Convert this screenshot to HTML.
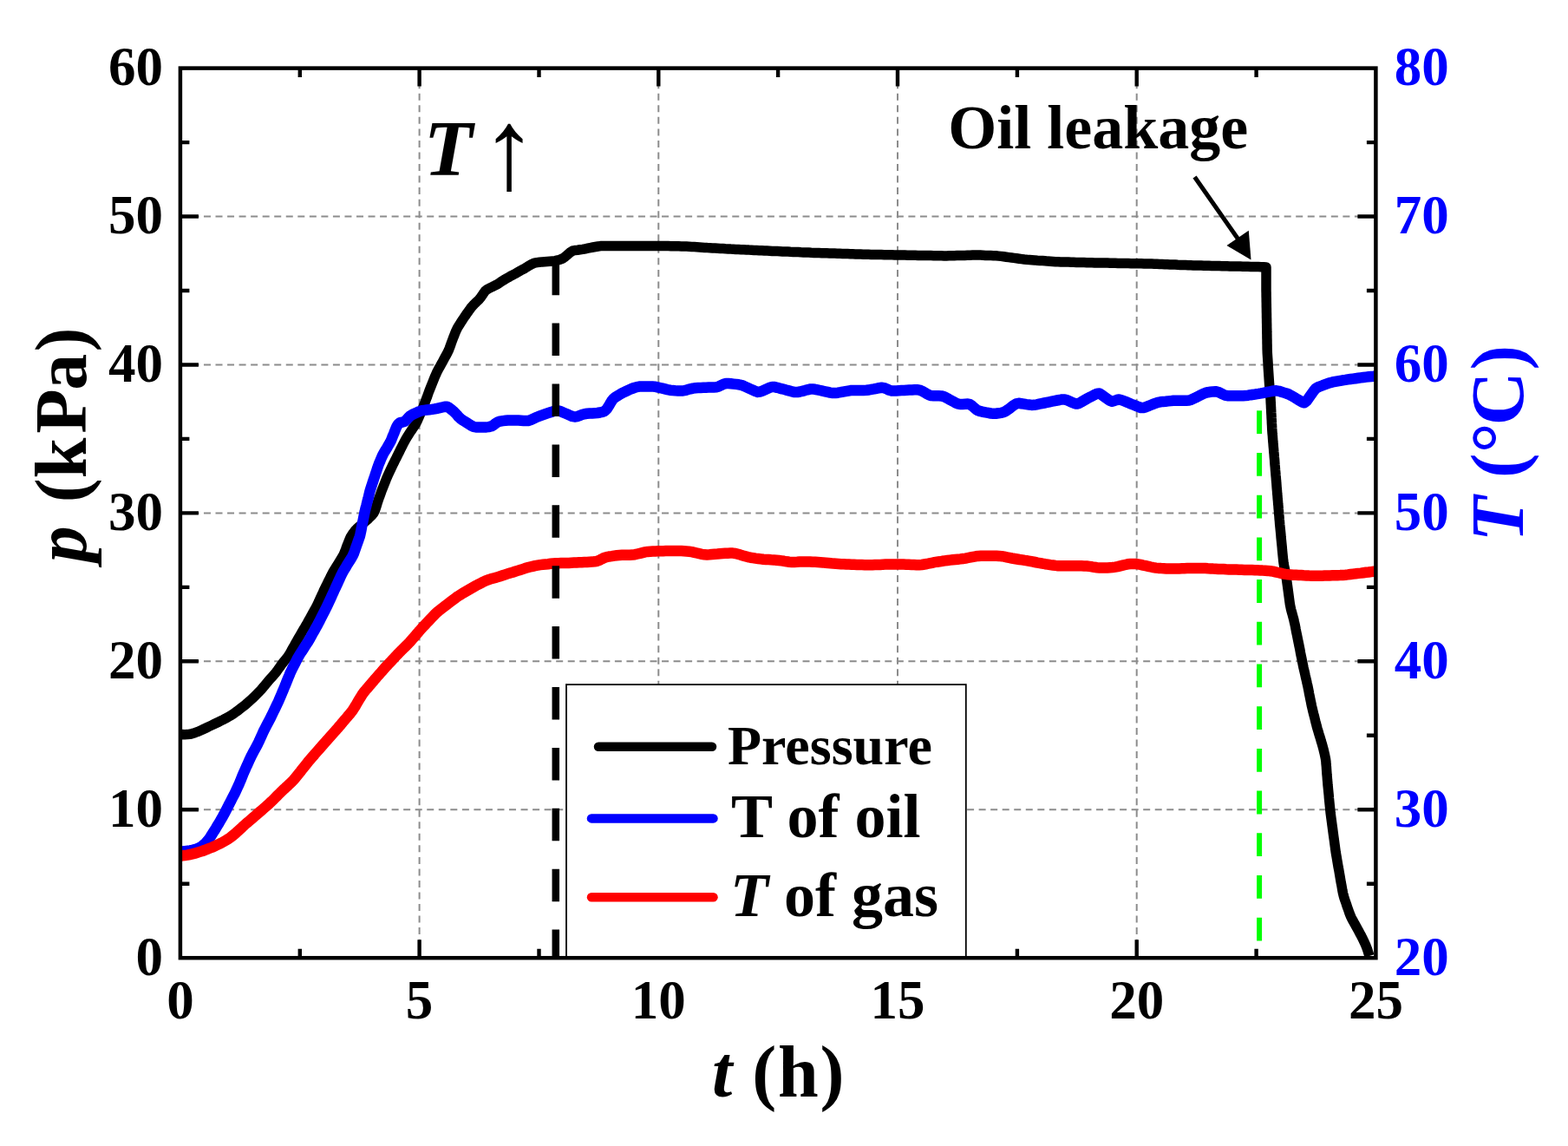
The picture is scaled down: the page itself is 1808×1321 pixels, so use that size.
<!DOCTYPE html>
<html><head><meta charset="utf-8"><title>Pressure and temperature vs time</title>
<style>html,body{margin:0;padding:0;background:#fff;overflow:hidden}svg{display:block}</style></head>
<body>
<svg width="1808" height="1321" viewBox="0 0 1808 1321">
<defs><clipPath id="plot"><rect x="207.9" y="78.6" width="1378.5" height="1025.6"/></clipPath></defs>
<rect width="1808" height="1321" fill="#fff"/>
<line x1="483.6" y1="1104.2" x2="483.6" y2="78.6" stroke="#8c8c8c" stroke-width="2" stroke-dasharray="8 5.54"/>
<line x1="759.3" y1="1104.2" x2="759.3" y2="78.6" stroke="#8c8c8c" stroke-width="2" stroke-dasharray="8 5.54"/>
<line x1="1035.0" y1="1104.2" x2="1035.0" y2="78.6" stroke="#8c8c8c" stroke-width="2" stroke-dasharray="8 5.54"/>
<line x1="1310.7" y1="1104.2" x2="1310.7" y2="78.6" stroke="#8c8c8c" stroke-width="2" stroke-dasharray="8 5.54"/>
<line x1="207.9" y1="933.3" x2="1586.4" y2="933.3" stroke="#8c8c8c" stroke-width="2" stroke-dasharray="8 5.54"/>
<line x1="207.9" y1="762.3" x2="1586.4" y2="762.3" stroke="#8c8c8c" stroke-width="2" stroke-dasharray="8 5.54"/>
<line x1="207.9" y1="591.4" x2="1586.4" y2="591.4" stroke="#8c8c8c" stroke-width="2" stroke-dasharray="8 5.54"/>
<line x1="207.9" y1="420.5" x2="1586.4" y2="420.5" stroke="#8c8c8c" stroke-width="2" stroke-dasharray="8 5.54"/>
<line x1="207.9" y1="249.5" x2="1586.4" y2="249.5" stroke="#8c8c8c" stroke-width="2" stroke-dasharray="8 5.54"/>
<g clip-path="url(#plot)" fill="none" stroke-linejoin="round" stroke-linecap="butt">
<polyline points="204.0,846.7 207.0,846.7 210.0,846.6 213.0,846.7 216.0,846.6 218.9,846.3 221.8,845.6 224.7,844.7 227.5,843.7 230.3,842.5 233.0,841.3 235.7,840.0 238.4,838.7 241.1,837.4 243.9,836.1 246.6,834.8 249.3,833.5 252.0,832.2 254.6,830.9 257.3,829.6 260.0,828.2 262.6,826.7 265.2,825.3 267.8,823.7 270.3,822.0 272.7,820.2 275.1,818.5 277.5,816.6 279.8,814.8 282.2,812.9 284.5,811.0 286.7,809.0 289.0,807.0 291.2,805.0 293.4,802.9 295.5,800.8 297.6,798.6 299.7,796.5 301.7,794.3 303.6,792.0 305.6,789.7 307.5,787.4 309.4,785.1 311.4,782.8 313.4,780.6 315.4,778.4 317.4,776.1 319.2,773.7 320.9,771.3 322.7,768.8 324.4,766.4 326.2,764.0 328.1,761.7 330.0,759.3 331.8,757.0 333.5,754.5 335.0,751.9 336.4,749.3 337.9,746.6 339.4,744.0 340.8,741.4 342.3,738.8 343.8,736.2 345.3,733.6 346.8,731.0 348.3,728.4 349.8,725.8 351.4,723.2 352.9,720.6 354.4,718.0 355.8,715.4 357.3,712.8 358.8,710.2 360.2,707.6 361.7,704.9 363.1,702.3 364.6,699.7 365.9,697.0 367.2,694.3 368.4,691.5 369.7,688.8 370.9,686.1 372.2,683.4 373.4,680.6 374.7,677.9 376.1,675.2 377.4,672.5 378.7,669.8 380.0,667.2 381.4,664.5 382.7,661.8 384.1,659.1 385.7,656.6 387.2,654.0 388.8,651.5 390.4,648.9 392.0,646.4 393.6,643.8 395.1,641.3 396.5,638.6 397.6,635.8 398.7,633.0 399.7,630.2 400.8,627.4 401.9,624.6 403.0,621.8 404.2,619.1 405.8,616.6 407.5,614.1 409.3,611.7 411.3,609.5 413.5,607.5 415.8,605.5 418.1,603.6 420.4,601.7 422.7,599.8 425.0,597.8 427.1,595.7 429.2,593.6 431.0,591.2 432.3,588.6 433.3,585.8 434.2,583.0 435.0,580.1 436.0,577.2 436.9,574.4 438.0,571.6 439.0,568.8 440.0,565.9 441.1,563.1 442.2,560.3 443.3,557.6 444.4,554.8 445.5,552.0 446.7,549.2 447.9,546.5 449.2,543.8 450.5,541.0 451.8,538.3 453.1,535.6 454.4,532.9 455.7,530.3 457.1,527.6 458.4,524.9 459.8,522.2 461.1,519.5 462.4,516.8 463.8,514.1 465.1,511.5 466.5,508.8 468.0,506.2 469.5,503.6 471.1,501.1 472.7,498.5 474.4,496.1 476.1,493.6 477.8,491.1 479.4,488.6 480.8,485.9 482.0,483.2 483.2,480.4 484.4,477.7 485.6,474.9 486.8,472.2 487.9,469.4 489.0,466.6 490.1,463.8 491.1,461.0 492.2,458.2 493.2,455.4 494.2,452.5 495.3,449.7 496.4,446.9 497.5,444.1 498.6,441.4 499.7,438.6 500.8,435.8 502.0,433.0 503.2,430.3 504.5,427.6 505.9,424.9 507.4,422.3 508.8,419.7 510.3,417.1 511.7,414.4 513.1,411.8 514.6,409.1 516.0,406.5 517.3,403.8 518.4,401.0 519.4,398.2 520.4,395.4 521.4,392.6 522.5,389.7 523.6,387.0 524.7,384.2 525.8,381.4 527.1,378.7 528.6,376.1 530.2,373.6 531.8,371.0 533.5,368.5 535.1,366.0 536.8,363.6 538.5,361.1 540.3,358.6 542.0,356.2 543.8,353.8 545.8,351.6 547.9,349.5 550.1,347.4 552.3,345.3 554.2,343.1 555.9,340.6 557.5,338.1 559.2,335.7 561.4,333.8 563.9,332.4 566.6,331.1 569.4,329.8 572.0,328.4 574.6,326.9 577.1,325.2 579.6,323.6 582.2,322.0 584.8,320.5 587.4,319.1 590.0,317.6 592.6,316.2 595.3,314.8 597.9,313.3 600.5,311.8 603.1,310.4 605.7,308.9 608.3,307.3 610.9,305.8 613.5,304.3 616.2,303.2 619.1,302.6 622.1,302.2 625.1,301.9 628.0,301.7 631.0,301.5 634.0,301.3 637.0,301.1 640.0,300.6 642.9,300.0 645.8,299.2 648.5,298.1 650.9,296.5 653.2,294.6 655.5,292.6 657.7,290.7 660.2,289.2 663.0,288.5 666.0,288.2 668.9,287.8 671.9,287.4 674.9,286.8 677.8,286.2 680.7,285.6 683.7,285.0 686.6,284.5 689.6,284.0 692.5,283.6 695.5,283.4 698.5,283.4 701.5,283.4 704.5,283.4 707.5,283.4 710.5,283.4 713.5,283.4 716.5,283.4 719.5,283.4 722.5,283.4 725.5,283.4 728.5,283.4 731.5,283.4 734.5,283.4 737.5,283.4 740.5,283.4 743.5,283.4 746.5,283.4 749.5,283.4 752.5,283.4 755.5,283.4 758.5,283.4 761.6,283.5 764.6,283.5 767.6,283.6 770.6,283.6 773.6,283.7 776.6,283.7 779.6,283.8 782.6,283.8 785.6,283.9 788.6,284.0 791.6,284.1 794.5,284.2 797.5,284.4 800.5,284.6 803.5,284.8 806.5,285.0 809.5,285.2 812.5,285.4 815.5,285.6 818.5,285.7 821.5,285.9 824.5,286.1 827.5,286.3 830.5,286.5 833.5,286.6 836.5,286.8 839.5,286.9 842.5,287.1 845.5,287.2 848.5,287.4 851.5,287.5 854.5,287.7 857.5,287.8 860.5,287.9 863.5,288.1 866.5,288.2 869.5,288.4 872.4,288.5 875.4,288.7 878.4,288.8 881.4,289.0 884.4,289.1 887.4,289.2 890.4,289.4 893.4,289.5 896.4,289.6 899.4,289.7 902.4,289.9 905.4,290.0 908.4,290.1 911.4,290.3 914.4,290.4 917.4,290.5 920.4,290.6 923.4,290.8 926.4,290.9 929.4,291.0 932.4,291.1 935.4,291.3 938.4,291.4 941.4,291.5 944.4,291.6 947.4,291.7 950.4,291.7 953.4,291.8 956.4,291.9 959.4,292.0 962.4,292.1 965.4,292.2 968.4,292.3 971.4,292.4 974.4,292.5 977.4,292.6 980.4,292.7 983.4,292.8 986.4,292.9 989.4,293.0 992.4,293.1 995.4,293.2 998.4,293.3 1001.4,293.3 1004.4,293.4 1007.4,293.4 1010.4,293.5 1013.4,293.6 1016.4,293.6 1019.4,293.7 1022.4,293.7 1025.4,293.8 1028.4,293.8 1031.4,293.9 1034.4,294.0 1037.4,294.0 1040.4,294.1 1043.4,294.1 1046.4,294.2 1049.4,294.2 1052.4,294.3 1055.4,294.3 1058.4,294.4 1061.4,294.4 1064.4,294.5 1067.4,294.5 1070.4,294.6 1073.4,294.6 1076.4,294.7 1079.4,294.7 1082.4,294.8 1085.4,294.8 1088.4,294.9 1091.4,294.9 1094.4,294.8 1097.4,294.7 1100.4,294.7 1103.4,294.6 1106.4,294.5 1109.4,294.4 1112.4,294.4 1115.4,294.3 1118.4,294.2 1121.4,294.1 1124.4,294.1 1127.4,294.1 1130.4,294.1 1133.4,294.2 1136.4,294.4 1139.4,294.5 1142.4,294.6 1145.4,294.7 1148.4,294.8 1151.4,295.1 1154.4,295.4 1157.3,295.8 1160.3,296.2 1163.3,296.6 1166.3,297.0 1169.2,297.4 1172.2,297.8 1175.2,298.2 1178.1,298.6 1181.1,299.0 1184.1,299.3 1187.1,299.5 1190.1,299.7 1193.1,299.9 1196.1,300.2 1199.1,300.4 1202.1,300.6 1205.1,300.8 1208.0,301.1 1211.0,301.3 1214.0,301.5 1217.0,301.7 1220.0,301.8 1223.0,301.9 1226.0,302.0 1229.0,302.1 1232.0,302.1 1235.0,302.2 1238.0,302.3 1241.0,302.4 1244.0,302.4 1247.0,302.5 1250.0,302.6 1253.0,302.7 1256.0,302.7 1259.0,302.8 1262.0,302.9 1265.0,302.9 1268.0,303.0 1271.0,303.0 1274.0,303.1 1277.0,303.1 1280.0,303.2 1283.0,303.3 1286.0,303.3 1289.0,303.4 1292.0,303.4 1295.0,303.5 1298.0,303.6 1301.0,303.6 1304.0,303.7 1307.0,303.7 1310.0,303.8 1313.0,303.8 1316.0,303.8 1319.0,303.9 1322.0,303.9 1325.0,304.0 1328.0,304.1 1331.0,304.2 1334.0,304.3 1337.0,304.4 1340.0,304.5 1343.0,304.7 1346.0,304.8 1349.0,304.9 1352.0,305.0 1355.0,305.1 1358.0,305.3 1361.0,305.4 1364.0,305.5 1367.0,305.6 1370.0,305.7 1373.0,305.8 1376.0,305.9 1379.0,306.0 1382.0,306.0 1385.0,306.1 1388.0,306.2 1391.0,306.3 1394.0,306.3 1397.0,306.4 1400.0,306.5 1403.0,306.6 1406.0,306.6 1409.0,306.7 1412.0,306.8 1415.0,306.8 1418.0,306.9 1421.0,307.0 1424.0,307.0 1427.0,307.1 1430.0,307.1 1433.0,307.2 1436.0,307.3 1439.0,307.3 1442.0,307.4 1445.0,307.4 1448.0,307.5 1451.0,307.6 1454.0,307.7 1457.0,307.8 1460.0,308.0 1460.0,311.0 1460.0,314.0 1460.0,317.0 1460.0,320.0 1460.0,323.0 1460.0,326.0 1460.0,329.0 1460.0,332.0 1460.0,335.0 1460.1,338.0 1460.1,341.0 1460.2,344.0 1460.2,347.0 1460.3,350.0 1460.3,353.0 1460.4,356.0 1460.4,359.0 1460.5,362.0 1460.5,365.0 1460.6,368.0 1460.6,371.0 1460.7,374.0 1460.7,377.0 1460.8,380.0 1460.8,383.0 1460.9,386.0 1460.9,389.0 1461.0,392.0 1461.0,395.0 1461.1,398.0 1461.1,401.0 1461.2,404.0 1461.3,407.0 1461.5,410.0 1461.7,413.0 1461.9,416.0 1462.1,419.0 1462.2,422.0 1462.4,425.0 1462.6,428.0 1462.8,431.0 1463.0,433.9 1463.2,436.9 1463.4,439.9 1463.6,442.9 1463.9,445.9 1464.1,448.9 1464.4,451.9 1464.6,454.9 1464.9,457.9 1465.1,460.9 1465.2,463.9 1465.4,466.9 1465.5,469.9 1465.7,472.9 1465.8,475.8 1466.0,478.8 1466.1,481.8 1466.3,484.8 1466.4,487.8 1466.6,490.8 1466.7,493.8 1466.9,496.8 1467.1,499.8 1467.4,502.8 1467.6,505.8 1467.8,508.8 1468.1,511.8 1468.3,514.8 1468.6,517.8 1468.8,520.7 1469.1,523.7 1469.3,526.7 1469.6,529.7 1469.8,532.7 1470.0,535.7 1470.3,538.7 1470.5,541.7 1470.8,544.7 1471.0,547.7 1471.3,550.7 1471.5,553.6 1471.8,556.6 1472.0,559.6 1472.2,562.6 1472.5,565.6 1472.7,568.6 1473.0,571.6 1473.2,574.6 1473.5,577.6 1473.7,580.6 1474.0,583.5 1474.2,586.5 1474.5,589.5 1474.7,592.5 1475.0,595.5 1475.2,598.5 1475.5,601.5 1475.7,604.5 1476.0,607.5 1476.3,610.4 1476.6,613.4 1476.9,616.4 1477.1,619.4 1477.4,622.4 1477.7,625.4 1478.0,628.4 1478.3,631.4 1478.5,634.3 1478.8,637.3 1479.1,640.3 1479.4,643.3 1479.7,646.3 1480.1,649.3 1480.6,652.2 1481.2,655.1 1481.9,658.1 1482.5,661.0 1483.0,664.0 1483.4,666.9 1483.8,669.9 1484.2,672.9 1484.6,675.8 1485.0,678.8 1485.4,681.8 1485.8,684.8 1486.2,687.7 1486.6,690.7 1487.0,693.7 1487.4,696.7 1488.0,699.6 1488.6,702.5 1489.4,705.4 1490.2,708.3 1491.0,711.2 1491.8,714.1 1492.4,717.0 1493.1,720.0 1493.7,722.9 1494.2,725.8 1494.8,728.8 1495.4,731.7 1496.0,734.7 1496.6,737.6 1497.2,740.5 1497.8,743.5 1498.4,746.4 1499.0,749.4 1499.5,752.3 1500.1,755.3 1500.7,758.2 1501.3,761.1 1501.9,764.1 1502.5,767.0 1503.1,770.0 1503.8,772.9 1504.5,775.8 1505.1,778.7 1505.8,781.7 1506.5,784.6 1507.1,787.5 1507.8,790.4 1508.4,793.4 1509.0,796.3 1509.5,799.3 1510.1,802.2 1510.7,805.2 1511.3,808.1 1511.9,811.0 1512.5,814.0 1513.2,816.9 1513.9,819.8 1514.6,822.7 1515.4,825.6 1516.1,828.5 1516.8,831.4 1517.6,834.4 1518.3,837.3 1519.1,840.1 1520.0,843.0 1520.8,845.9 1521.7,848.8 1522.6,851.6 1523.4,854.5 1524.3,857.4 1525.1,860.3 1525.9,863.2 1526.6,866.1 1527.3,869.0 1527.9,871.9 1528.5,874.9 1528.9,877.8 1529.1,880.8 1529.4,883.8 1529.6,886.8 1529.8,889.8 1530.0,892.8 1530.3,895.8 1530.5,898.8 1530.8,901.8 1531.0,904.8 1531.3,907.7 1531.6,910.7 1531.9,913.7 1532.2,916.7 1532.4,919.7 1532.7,922.7 1533.0,925.7 1533.3,928.7 1533.6,931.6 1533.9,934.6 1534.2,937.6 1534.6,940.6 1535.0,943.5 1535.4,946.5 1535.8,949.5 1536.2,952.5 1536.6,955.4 1537.0,958.4 1537.4,961.4 1537.8,964.4 1538.2,967.3 1538.6,970.3 1539.0,973.3 1539.4,976.3 1539.8,979.2 1540.2,982.2 1540.7,985.2 1541.2,988.1 1541.7,991.1 1542.2,994.0 1542.7,997.0 1543.2,999.9 1543.8,1002.9 1544.3,1005.9 1544.8,1008.8 1545.3,1011.8 1545.8,1014.7 1546.3,1017.7 1546.9,1020.6 1547.4,1023.6 1547.9,1026.5 1548.5,1029.5 1549.2,1032.4 1550.0,1035.3 1551.0,1038.1 1552.0,1040.9 1552.9,1043.8 1553.9,1046.6 1554.9,1049.4 1555.9,1052.3 1557.0,1055.1 1558.2,1057.8 1559.6,1060.5 1561.0,1063.1 1562.5,1065.7 1563.9,1068.3 1565.4,1071.0 1566.8,1073.6 1568.2,1076.2 1569.7,1078.9 1571.0,1081.6 1572.3,1084.3 1573.6,1087.0 1574.8,1089.7 1575.9,1092.5 1576.9,1095.3 1577.8,1098.2 1578.7,1101.0 1579.0,1102.0" stroke="#000" stroke-width="11.5"/>
<polyline points="204.0,981.8 207.0,981.6 210.0,981.4 213.0,981.1 216.0,980.8 218.9,980.4 221.9,979.9 224.8,979.2 227.6,978.3 230.3,977.0 232.8,975.4 235.2,973.5 237.3,971.5 239.3,969.3 241.1,966.9 242.8,964.4 244.4,961.9 246.0,959.3 247.6,956.8 249.2,954.2 250.7,951.6 252.3,949.1 253.8,946.5 255.3,943.9 256.8,941.3 258.2,938.7 259.7,936.0 261.0,933.4 262.4,930.7 263.7,928.0 265.1,925.3 266.5,922.6 267.8,920.0 269.2,917.3 270.6,914.7 271.9,912.0 273.2,909.2 274.4,906.5 275.7,903.8 276.8,901.0 278.0,898.2 279.1,895.4 280.2,892.7 281.4,889.9 282.6,887.2 283.8,884.4 285.1,881.7 286.3,879.0 287.5,876.2 288.8,873.5 290.1,870.8 291.5,868.1 292.9,865.5 294.4,862.9 295.8,860.3 297.2,857.6 298.5,854.9 299.7,852.2 301.0,849.4 302.2,846.7 303.4,844.0 304.7,841.3 306.1,838.6 307.5,835.9 308.9,833.3 310.3,830.6 311.7,828.0 313.0,825.3 314.3,822.6 315.6,819.9 316.9,817.2 318.2,814.5 319.5,811.8 320.8,809.1 322.0,806.3 323.2,803.5 324.4,800.8 325.5,798.0 326.7,795.2 327.8,792.5 329.0,789.7 330.1,786.9 331.2,784.1 332.3,781.4 333.5,778.6 334.6,775.8 335.9,773.1 337.2,770.4 338.6,767.7 339.9,765.1 341.3,762.4 342.6,759.7 344.1,757.1 345.6,754.5 347.2,752.0 348.9,749.5 350.5,746.9 352.1,744.4 353.7,741.9 355.4,739.4 356.9,736.8 358.4,734.2 359.8,731.5 361.3,728.9 362.8,726.3 364.2,723.7 365.7,721.1 367.1,718.4 368.5,715.8 369.8,713.1 371.2,710.4 372.6,707.7 373.9,705.1 375.3,702.4 376.6,699.7 377.9,697.0 379.2,694.3 380.4,691.6 381.7,688.8 382.9,686.1 384.2,683.4 385.4,680.6 386.7,677.9 387.9,675.2 389.2,672.5 390.4,669.7 391.7,667.0 392.9,664.3 394.2,661.6 395.6,658.9 397.1,656.3 398.7,653.8 400.2,651.2 401.8,648.7 403.4,646.1 405.0,643.6 406.5,641.0 407.8,638.3 408.8,635.5 409.8,632.7 410.8,629.8 411.8,627.0 412.8,624.2 413.8,621.3 414.8,618.5 415.5,615.6 416.1,612.7 416.7,609.7 417.2,606.8 417.8,603.8 418.4,600.9 419.0,597.9 419.6,595.0 420.2,592.1 420.8,589.1 421.5,586.2 422.3,583.3 423.0,580.4 423.7,577.5 424.5,574.6 425.2,571.7 425.9,568.7 426.6,565.8 427.5,563.0 428.4,560.1 429.3,557.3 430.3,554.4 431.2,551.6 432.2,548.7 433.1,545.9 434.1,543.0 435.0,540.2 436.0,537.3 437.0,534.5 438.2,531.7 439.3,529.0 440.5,526.2 441.8,523.5 443.3,520.9 444.9,518.4 446.4,515.8 447.9,513.2 449.4,510.6 450.8,508.0 451.9,505.2 453.0,502.4 454.2,499.6 455.3,496.8 456.4,494.0 457.6,491.3 459.2,488.8 461.3,487.1 464.0,486.6 466.6,485.8 468.7,483.9 470.7,481.6 472.8,479.6 475.3,478.0 478.0,476.7 480.7,475.5 483.4,474.3 486.2,473.3 489.2,472.9 492.2,472.5 495.2,472.2 498.1,471.9 501.1,471.4 504.0,470.8 507.0,470.2 509.9,469.5 512.8,468.8 515.5,468.8 517.9,470.1 520.3,472.0 522.6,473.8 524.8,475.9 526.8,478.1 528.7,480.4 530.9,482.4 533.3,484.2 535.8,485.8 538.4,487.4 540.9,489.0 543.5,490.6 546.1,491.9 548.9,492.5 551.9,492.6 554.9,492.6 557.9,492.6 560.9,492.4 563.9,492.1 566.7,491.3 569.2,489.8 571.5,488.0 574.0,486.4 576.8,485.6 579.8,485.1 582.8,484.8 585.7,484.5 588.7,484.4 591.7,484.4 594.7,484.4 597.7,484.5 600.7,484.7 603.7,484.9 606.7,485.1 609.6,484.9 612.4,483.9 615.1,482.6 617.8,481.3 620.6,480.2 623.4,479.2 626.2,478.2 629.0,477.2 631.9,476.2 634.7,475.3 637.6,474.3 640.4,473.5 643.2,473.2 646.0,474.0 648.8,475.2 651.5,476.4 654.3,477.6 657.0,478.7 659.8,479.9 662.6,480.5 665.4,480.1 668.2,479.1 671.0,478.0 673.9,477.2 676.8,476.8 679.8,476.6 682.8,476.4 685.8,476.2 688.8,476.0 691.7,475.5 694.6,474.8 697.3,473.8 699.4,471.8 701.0,469.3 702.6,466.8 704.1,464.2 705.7,461.6 707.5,459.4 709.9,457.6 712.4,456.1 715.0,454.5 717.6,453.1 720.3,451.7 723.0,450.5 725.8,449.2 728.5,448.0 731.3,447.0 734.2,446.1 737.1,445.6 740.1,445.4 743.1,445.4 746.1,445.4 749.1,445.4 752.1,445.4 755.0,445.7 758.0,446.3 760.9,447.0 763.8,447.7 766.7,448.4 769.6,449.1 772.5,449.7 775.5,450.1 778.5,450.3 781.5,450.4 784.5,450.6 787.5,450.5 790.4,449.9 793.3,449.1 796.1,448.3 799.1,447.6 802.0,447.2 805.0,447.0 808.0,446.9 811.0,446.8 814.0,446.7 817.0,446.6 820.0,446.5 823.0,446.4 826.0,446.2 828.8,445.4 831.5,444.1 834.2,442.8 836.9,442.1 839.9,442.1 842.9,442.3 845.8,442.6 848.8,442.9 851.8,443.3 854.7,443.8 857.5,444.9 860.2,446.1 863.0,447.4 865.7,448.6 868.4,449.8 871.2,451.1 873.9,451.9 876.6,451.6 879.4,450.4 882.1,449.2 884.9,448.0 887.6,446.8 890.4,446.0 893.2,446.1 896.1,446.8 899.0,447.6 901.9,448.3 904.8,449.1 907.7,449.9 910.6,450.6 913.5,451.4 916.4,452.1 919.3,452.1 922.3,451.5 925.2,450.8 928.1,450.1 931.0,449.3 933.9,448.6 936.8,448.4 939.7,448.8 942.7,449.4 945.6,450.0 948.5,450.7 951.5,451.3 954.4,451.9 957.3,452.6 960.3,453.1 963.2,453.1 966.2,452.7 969.1,452.2 972.1,451.6 975.0,451.1 978.0,450.6 980.9,450.1 983.9,449.9 986.9,449.9 989.9,449.9 992.9,449.9 995.9,449.9 998.9,449.8 1001.9,449.5 1004.8,448.9 1007.8,448.4 1010.7,447.8 1013.6,447.2 1016.6,446.8 1019.4,447.1 1022.1,448.2 1024.8,449.5 1027.6,450.4 1030.5,450.6 1033.5,450.5 1036.5,450.3 1039.5,450.1 1042.5,450.0 1045.5,449.8 1048.5,449.6 1051.5,449.5 1054.5,449.3 1057.4,449.2 1060.3,449.6 1063.0,450.7 1065.6,452.2 1068.2,453.7 1070.8,455.1 1073.6,456.1 1076.5,456.3 1079.5,456.3 1082.5,456.3 1085.5,456.4 1088.3,457.1 1091.0,458.4 1093.6,459.8 1096.2,461.3 1098.9,462.7 1101.5,464.2 1104.2,465.4 1107.0,466.0 1109.9,465.9 1112.9,465.7 1115.9,465.6 1118.6,466.2 1120.9,467.9 1123.2,469.9 1125.4,471.8 1127.9,473.3 1130.7,474.2 1133.6,474.8 1136.6,475.4 1139.5,475.9 1142.5,476.5 1145.4,476.8 1148.4,476.7 1151.3,476.3 1154.3,475.8 1157.2,475.2 1159.8,473.9 1162.2,472.2 1164.6,470.4 1167.0,468.6 1169.4,466.8 1171.9,465.3 1174.6,464.8 1177.6,465.2 1180.6,465.6 1183.5,466.1 1186.5,466.5 1189.4,466.9 1192.4,466.8 1195.3,466.3 1198.3,465.7 1201.2,465.1 1204.2,464.5 1207.1,463.9 1210.0,463.3 1213.0,462.7 1215.9,462.1 1218.9,461.5 1221.8,461.0 1224.7,460.4 1227.6,460.5 1230.4,461.3 1233.2,462.5 1235.9,463.7 1238.6,464.9 1241.4,465.6 1244.0,464.9 1246.6,463.5 1249.2,462.0 1251.8,460.5 1254.4,459.0 1257.1,457.6 1259.8,456.3 1262.5,454.9 1265.1,453.7 1267.7,453.6 1270.1,454.9 1272.5,456.7 1274.9,458.5 1277.4,460.3 1279.8,461.9 1282.3,462.7 1285.0,462.0 1287.7,461.0 1290.5,460.5 1293.3,461.2 1296.1,462.3 1298.9,463.4 1301.6,464.5 1304.4,465.7 1307.2,466.8 1310.0,467.9 1312.8,469.0 1315.6,470.0 1318.4,470.1 1321.1,469.2 1323.9,468.1 1326.7,467.0 1329.5,465.9 1332.3,464.8 1335.1,463.8 1338.0,463.3 1341.0,462.9 1344.0,462.7 1347.0,462.4 1350.0,462.1 1352.9,461.8 1355.9,461.7 1358.9,461.7 1361.9,461.7 1364.9,461.7 1367.9,461.7 1370.9,461.5 1373.7,460.7 1376.4,459.4 1379.1,458.1 1381.8,456.7 1384.4,455.4 1387.1,454.1 1389.9,452.9 1392.8,452.2 1395.7,451.8 1398.7,451.4 1401.6,451.2 1404.4,451.8 1407.1,453.0 1409.8,454.4 1412.5,455.6 1415.4,456.2 1418.4,456.3 1421.4,456.3 1424.4,456.3 1427.4,456.3 1430.4,456.3 1433.4,456.3 1436.3,456.1 1439.3,455.7 1442.3,455.2 1445.2,454.8 1448.2,454.3 1451.2,453.9 1454.1,453.4 1457.1,452.8 1460.0,452.2 1463.0,451.6 1465.9,451.0 1468.8,450.5 1471.8,450.3 1474.7,450.8 1477.5,451.7 1480.4,452.6 1483.3,453.5 1486.1,454.5 1488.7,455.9 1491.3,457.4 1493.9,458.9 1496.4,460.5 1499.0,462.0 1501.6,463.5 1503.9,464.3 1506.5,462.3 1508.3,459.8 1510.0,457.4 1511.7,454.9 1513.5,452.5 1515.2,450.1 1517.1,447.9 1519.6,446.4 1522.4,445.3 1525.2,444.2 1528.0,443.2 1530.8,442.2 1533.6,441.2 1536.5,440.4 1539.5,439.8 1542.4,439.3 1545.4,438.8 1548.3,438.3 1551.3,437.9 1554.3,437.4 1557.2,437.0 1560.2,436.6 1563.2,436.2 1566.2,435.8 1569.1,435.4 1572.1,435.0 1575.1,434.6 1578.1,434.3 1581.1,434.0 1584.0,433.7 1587.0,433.3 1590.0,433.0" stroke="#0000ff" stroke-width="12.5"/>
<polyline points="204.0,986.8 207.0,986.6 210.0,986.4 213.0,986.0 215.9,985.6 218.9,985.0 221.8,984.4 224.7,983.7 227.6,982.8 230.5,981.9 233.3,981.0 236.1,980.0 238.9,978.9 241.7,977.8 244.5,976.7 247.2,975.5 250.0,974.2 252.7,972.9 255.3,971.6 258.0,970.1 260.6,968.6 263.1,967.1 265.6,965.4 268.0,963.5 270.3,961.6 272.5,959.7 274.8,957.6 277.0,955.6 279.2,953.6 281.4,951.5 283.6,949.5 285.9,947.6 288.2,945.6 290.4,943.7 292.7,941.7 295.0,939.8 297.3,937.8 299.6,935.8 301.8,933.9 304.1,931.9 306.4,929.9 308.6,928.0 310.8,925.9 313.0,923.9 315.1,921.8 317.3,919.6 319.4,917.5 321.5,915.4 323.6,913.3 325.8,911.2 328.0,909.2 330.2,907.1 332.4,905.1 334.6,903.0 336.7,901.0 338.8,898.8 340.7,896.5 342.6,894.1 344.5,891.8 346.4,889.5 348.2,887.1 350.1,884.8 352.0,882.4 353.8,880.1 355.7,877.7 357.7,875.4 359.6,873.2 361.6,870.9 363.5,868.6 365.5,866.4 367.5,864.1 369.5,861.8 371.4,859.6 373.4,857.3 375.4,855.1 377.4,852.8 379.4,850.6 381.4,848.3 383.4,846.1 385.4,843.9 387.4,841.6 389.4,839.4 391.3,837.1 393.3,834.8 395.2,832.5 397.2,830.2 399.1,828.0 401.0,825.7 403.0,823.4 404.9,821.1 406.7,818.7 408.3,816.2 409.9,813.6 411.4,811.0 412.9,808.4 414.4,805.8 416.0,803.3 417.6,800.7 419.3,798.3 421.2,796.0 423.2,793.7 425.1,791.4 427.1,789.1 429.0,786.9 431.0,784.6 432.9,782.3 434.9,780.0 436.9,777.8 438.9,775.5 440.9,773.3 442.8,771.0 444.8,768.8 446.9,766.6 448.9,764.4 451.0,762.2 453.0,760.0 455.1,757.8 457.1,755.6 459.2,753.5 461.3,751.3 463.4,749.2 465.6,747.1 467.7,745.0 469.8,742.9 471.9,740.7 473.9,738.5 475.9,736.2 477.9,734.0 479.8,731.7 481.8,729.4 483.7,727.1 485.7,724.9 487.7,722.6 489.8,720.5 491.8,718.3 493.9,716.1 496.0,713.9 498.0,711.8 500.1,709.6 502.2,707.4 504.4,705.4 506.7,703.5 509.1,701.6 511.4,699.8 513.8,698.0 516.2,696.2 518.6,694.3 521.0,692.5 523.4,690.7 525.8,688.9 528.2,687.2 530.8,685.6 533.3,684.0 535.9,682.5 538.5,681.0 541.1,679.5 543.7,678.0 546.3,676.5 548.9,675.0 551.6,673.6 554.2,672.3 556.9,670.9 559.6,669.6 562.4,668.5 565.2,667.6 568.1,666.8 571.0,666.0 573.9,665.1 576.8,664.2 579.6,663.3 582.5,662.3 585.3,661.4 588.2,660.5 591.1,659.7 593.9,658.8 596.8,657.9 599.7,657.0 602.5,656.1 605.4,655.1 608.2,654.3 611.1,653.5 614.1,652.8 617.0,652.1 619.9,651.6 622.9,651.1 625.9,650.8 628.9,650.5 631.8,650.2 634.8,649.8 637.8,649.5 640.8,649.3 643.8,649.2 646.8,649.1 649.8,649.0 652.8,649.0 655.8,648.9 658.8,648.7 661.8,648.6 664.8,648.5 667.8,648.3 670.8,648.2 673.8,648.0 676.8,647.9 679.8,647.7 682.8,647.6 685.7,647.3 688.6,646.8 691.3,645.7 693.9,644.3 696.6,643.0 699.4,642.1 702.3,641.5 705.3,641.1 708.3,640.6 711.2,640.2 714.2,640.0 717.2,639.8 720.2,639.8 723.2,639.8 726.2,639.8 729.2,639.6 732.1,639.2 735.1,638.5 738.0,637.8 740.9,637.1 743.8,636.4 746.8,635.9 749.7,635.7 752.7,635.5 755.7,635.4 758.7,635.3 761.7,635.2 764.7,635.2 767.7,635.1 770.7,635.0 773.7,634.9 776.7,634.9 779.7,634.9 782.7,635.0 785.7,635.1 788.7,635.3 791.7,635.5 794.7,635.7 797.6,636.1 800.6,636.8 803.5,637.5 806.4,638.2 809.3,638.8 812.3,639.3 815.2,639.5 818.2,639.3 821.2,639.0 824.2,638.7 827.2,638.5 830.1,638.2 833.1,638.0 836.1,637.8 839.1,637.7 842.1,637.6 845.1,637.6 848.0,638.0 850.9,638.8 853.8,639.6 856.7,640.5 859.5,641.3 862.4,642.1 865.4,642.7 868.3,643.1 871.3,643.6 874.3,644.0 877.2,644.4 880.2,644.8 883.2,645.0 886.2,645.1 889.2,645.3 892.2,645.4 895.2,645.7 898.2,646.0 901.1,646.4 904.1,646.8 907.1,647.3 910.1,647.7 913.0,647.9 916.0,647.9 919.0,647.8 922.0,647.6 925.0,647.5 928.0,647.4 931.0,647.4 934.0,647.5 937.0,647.7 940.0,647.8 943.0,648.0 946.0,648.2 949.0,648.4 952.0,648.7 955.0,649.0 957.9,649.3 960.9,649.6 963.9,649.8 966.9,650.0 969.9,650.2 972.9,650.3 975.9,650.5 978.9,650.6 981.9,650.7 984.9,650.8 987.9,650.9 990.9,651.0 993.9,651.1 996.9,651.2 999.9,651.3 1002.9,651.3 1005.9,651.3 1008.9,651.1 1011.9,651.0 1014.9,650.9 1017.9,650.7 1020.9,650.6 1023.9,650.6 1026.9,650.6 1029.9,650.6 1032.9,650.6 1035.9,650.6 1038.9,650.6 1041.9,650.6 1044.9,650.7 1047.9,650.8 1050.9,650.9 1053.9,651.0 1056.9,651.2 1059.9,651.2 1062.9,651.0 1065.8,650.5 1068.8,650.0 1071.7,649.4 1074.6,648.8 1077.6,648.2 1080.6,647.7 1083.5,647.3 1086.5,646.8 1089.5,646.4 1092.4,646.0 1095.4,645.6 1098.4,645.3 1101.4,645.0 1104.4,644.7 1107.3,644.4 1110.3,644.0 1113.3,643.6 1116.2,643.0 1119.2,642.4 1122.1,641.8 1125.1,641.3 1128.0,640.9 1131.0,640.7 1134.0,640.7 1137.0,640.7 1140.0,640.7 1143.0,640.7 1146.0,640.7 1149.0,640.7 1152.0,640.9 1155.0,641.2 1157.9,641.7 1160.9,642.3 1163.8,642.9 1166.8,643.5 1169.7,644.0 1172.7,644.5 1175.6,645.0 1178.6,645.4 1181.6,645.9 1184.5,646.3 1187.5,646.8 1190.4,647.4 1193.4,648.0 1196.3,648.6 1199.3,649.1 1202.2,649.7 1205.2,650.2 1208.2,650.6 1211.1,651.1 1214.1,651.5 1217.1,651.9 1220.0,652.2 1223.0,652.3 1226.0,652.3 1229.0,652.3 1232.0,652.3 1235.0,652.3 1238.0,652.3 1241.0,652.3 1244.0,652.3 1247.0,652.3 1250.0,652.4 1253.0,652.5 1256.0,652.9 1259.0,653.3 1261.9,653.8 1264.9,654.2 1267.9,654.5 1270.9,654.6 1273.9,654.5 1276.9,654.4 1279.9,654.2 1282.8,654.0 1285.8,653.6 1288.7,653.1 1291.7,652.4 1294.6,651.7 1297.5,651.0 1300.4,650.3 1303.4,650.0 1306.4,649.9 1309.3,650.0 1312.3,650.4 1315.2,650.9 1318.2,651.6 1321.1,652.2 1324.0,652.8 1327.0,653.5 1329.9,654.1 1332.9,654.6 1335.8,654.9 1338.8,655.1 1341.8,655.2 1344.8,655.4 1347.8,655.5 1350.8,655.5 1353.8,655.5 1356.8,655.4 1359.8,655.4 1362.8,655.3 1365.8,655.2 1368.8,655.1 1371.8,655.1 1374.8,655.0 1377.8,654.9 1380.8,654.9 1383.8,654.9 1386.8,655.0 1389.8,655.1 1392.8,655.3 1395.8,655.4 1398.8,655.6 1401.8,655.7 1404.8,655.9 1407.8,656.0 1410.8,656.1 1413.8,656.3 1416.8,656.4 1419.8,656.5 1422.8,656.6 1425.8,656.6 1428.8,656.7 1431.8,656.8 1434.8,656.9 1437.8,656.9 1440.8,657.0 1443.8,657.1 1446.8,657.2 1449.8,657.3 1452.8,657.4 1455.8,657.6 1458.8,657.7 1461.8,657.9 1464.8,658.2 1467.7,658.6 1470.7,659.3 1473.6,660.0 1476.5,660.7 1479.4,661.4 1482.3,661.9 1485.3,662.3 1488.3,662.5 1491.3,662.7 1494.3,662.8 1497.3,663.0 1500.3,663.1 1503.3,663.3 1506.3,663.4 1509.3,663.6 1512.3,663.7 1515.3,663.8 1518.3,663.8 1521.3,663.7 1524.3,663.7 1527.3,663.6 1530.3,663.5 1533.3,663.4 1536.3,663.3 1539.3,663.3 1542.3,663.2 1545.3,663.1 1548.3,662.9 1551.3,662.7 1554.2,662.4 1557.2,662.0 1560.2,661.6 1563.2,661.3 1566.2,660.9 1569.1,660.6 1572.1,660.2 1575.1,659.8 1578.1,659.5 1581.1,659.1 1584.0,658.7 1587.0,658.4 1590.0,658.0" stroke="#ff0000" stroke-width="12.5"/>
<line x1="640.8" y1="302.7" x2="640.8" y2="1104" stroke="#000" stroke-width="8.5" stroke-dasharray="37.5 32.4"/>
<line x1="1452.1" y1="473.3" x2="1452.1" y2="1104" stroke="#00ff00" stroke-width="6" stroke-dasharray="26.8 21.9"/>
</g>
<g stroke="#000" fill="none">
<path d="M345.8,1104.2V1093.7M345.8,78.6V89.1M483.6,1104.2V1083.2M483.6,78.6V99.6M621.5,1104.2V1093.7M621.5,78.6V89.1M759.3,1104.2V1083.2M759.3,78.6V99.6M897.1,1104.2V1093.7M897.1,78.6V89.1M1035.0,1104.2V1083.2M1035.0,78.6V99.6M1172.9,1104.2V1093.7M1172.9,78.6V89.1M1310.7,1104.2V1083.2M1310.7,78.6V99.6M1448.6,1104.2V1093.7M1448.6,78.6V89.1M207.9,1018.7H218.4M1586.4,1018.7H1575.9M207.9,933.3H228.9M1586.4,933.3H1565.4M207.9,847.8H218.4M1586.4,847.8H1575.9M207.9,762.3H228.9M1586.4,762.3H1565.4M207.9,676.9H218.4M1586.4,676.9H1575.9M207.9,591.4H228.9M1586.4,591.4H1565.4M207.9,505.9H218.4M1586.4,505.9H1575.9M207.9,420.5H228.9M1586.4,420.5H1565.4M207.9,335.0H218.4M1586.4,335.0H1575.9M207.9,249.5H228.9M1586.4,249.5H1565.4M207.9,164.1H218.4M1586.4,164.1H1575.9" stroke-width="4.4"/>
</g>
<rect x="653" y="789.1" width="460.8" height="316" fill="#fff" stroke="#000" stroke-width="1.8"/>
<g stroke-width="10.5" stroke-linecap="round" fill="none">
<line x1="690" y1="860.8" x2="821" y2="860.8" stroke="#000"/>
<line x1="682" y1="943.4" x2="822.5" y2="943.4" stroke="#0000ff"/>
<line x1="682" y1="1034.2" x2="822.5" y2="1034.2" stroke="#ff0000"/>
</g>
<rect x="207.9" y="78.6" width="1378.5" height="1025.6" stroke-width="4.5" fill="none" stroke="#000"/>
<line x1="1377.5" y1="204" x2="1430" y2="279" stroke="#000" stroke-width="5"/>
<polygon points="1442.5,299.5 1414.5,283 1439.8,265.8" fill="#000"/>
<g font-family="Liberation Serif, Times New Roman, serif" font-weight="bold" font-size="63" fill="#000"><text x="188" y="1123.7" text-anchor="end">0</text><text x="188" y="952.8" text-anchor="end">10</text><text x="188" y="781.8" text-anchor="end">20</text><text x="188" y="610.9" text-anchor="end">30</text><text x="188" y="440.0" text-anchor="end">40</text><text x="188" y="269.0" text-anchor="end">50</text><text x="188" y="98.1" text-anchor="end">60</text><text x="1607.8" y="1123.7" fill="#0000ff">20</text><text x="1607.8" y="952.8" fill="#0000ff">30</text><text x="1607.8" y="781.8" fill="#0000ff">40</text><text x="1607.8" y="610.9" fill="#0000ff">50</text><text x="1607.8" y="440.0" fill="#0000ff">60</text><text x="1607.8" y="269.0" fill="#0000ff">70</text><text x="1607.8" y="98.1" fill="#0000ff">80</text><text x="207.9" y="1174.2" text-anchor="middle">0</text><text x="483.6" y="1174.2" text-anchor="middle">5</text><text x="759.3" y="1174.2" text-anchor="middle">10</text><text x="1035.0" y="1174.2" text-anchor="middle">15</text><text x="1310.7" y="1174.2" text-anchor="middle">20</text><text x="1586.4" y="1174.2" text-anchor="middle">25</text></g>
<text font-family="Liberation Serif, Times New Roman, serif" font-weight="bold" font-size="84" y="1263.9"><tspan font-style="italic" x="821.0">t</tspan><tspan x="867.3">(</tspan><tspan x="896.9">h</tspan><tspan x="945.5">)</tspan></text>
<text font-family="Liberation Serif, Times New Roman, serif" font-weight="bold" font-size="84" transform="translate(98.5,0) rotate(-90)" y="0"><tspan font-style="italic" x="-648.2">p</tspan><tspan x="-579.2">(</tspan><tspan x="-551.3">k</tspan><tspan x="-499.7">P</tspan><tspan x="-449.7">a</tspan><tspan x="-405.6">)</tspan></text>
<text font-family="Liberation Serif, Times New Roman, serif" font-weight="bold" font-size="86" fill="#0000ff" transform="translate(1755.8,0) rotate(-90)" y="0"><tspan font-style="italic" x="-624.5">T</tspan><tspan x="-551.1">(</tspan><tspan x="-521.9">°</tspan><tspan x="-490.5">C</tspan><tspan x="-426.6">)</tspan></text>
<text font-family="Liberation Serif, Times New Roman, serif" font-weight="bold" font-size="92" font-style="italic" x="488.8" y="201.6">T</text>
<text font-family="Liberation Serif, serif" font-size="132" x="554.3" y="217.1">↑</text>
<text font-family="Liberation Serif, Times New Roman, serif" font-weight="bold" font-size="72" x="1093.3" y="171">Oil leakage</text>
<text font-family="Liberation Serif, Times New Roman, serif" font-weight="bold" font-size="64" x="839.0" y="880.7">Pressure</text>
<text font-family="Liberation Serif, Times New Roman, serif" font-weight="bold" font-size="72" x="842.9" y="964.5">T of oil</text>
<text font-family="Liberation Serif, Times New Roman, serif" font-weight="bold" font-size="72" x="842.0" y="1055.7"><tspan font-style="italic">T</tspan> of gas</text>
</svg>
</body></html>
